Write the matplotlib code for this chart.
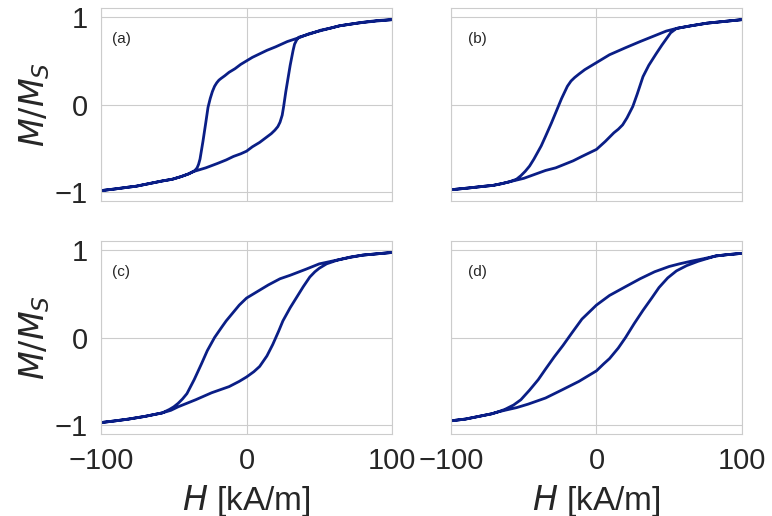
import matplotlib
matplotlib.use("Agg")
import matplotlib.pyplot as plt
import seaborn as sns

sns.set_style("whitegrid")
plt.rcParams['font.family'] = ['Liberation Sans', 'DejaVu Sans']
plt.rcParams['mathtext.fontset'] = 'dejavusans'

line_color = '#0a1e86'
panel_names = ['(a)', '(b)', '(c)', '(d)']

# (a) descending branch, then ascending branch
a_up_H = [100, 90, 80, 72, 64, 57, 50, 43, 37, 28, 20, 14, 9, 4, 0, -4, -8, -12, -15, -17.5, -19, -20.5, -22, -23.5, -25, -26.5, -28, -30, -32, -33, -34, -35.5, -40, -45, -51, -58, -64, -70, -76, -81, -90, -100]
a_up_M = [0.97, 0.96, 0.94, 0.92, 0.90, 0.87, 0.84, 0.81, 0.77, 0.72, 0.66, 0.62, 0.58, 0.54, 0.50, 0.46, 0.41, 0.37, 0.33, 0.30, 0.28, 0.25, 0.21, 0.15, 0.07, -0.03, -0.20, -0.42, -0.62, -0.68, -0.72, -0.75, -0.79, -0.82, -0.85, -0.87, -0.89, -0.91, -0.93, -0.94, -0.96, -0.98]
a_lo_H = [-100, -90, -81, -76, -70, -64, -58, -51, -45, -40, -36, -28, -20, -14, -9, -4, 0, 4, 9, 13, 17, 19.5, 21.5, 23, 24.5, 25.5, 27, 29, 30, 32, 33, 34.5, 36, 40, 45, 51, 58, 64, 70, 76, 81, 90, 100]
a_lo_M = [-0.98, -0.96, -0.94, -0.93, -0.91, -0.89, -0.87, -0.85, -0.82, -0.79, -0.76, -0.72, -0.67, -0.63, -0.59, -0.56, -0.53, -0.48, -0.43, -0.38, -0.33, -0.29, -0.25, -0.20, -0.12, -0.02, 0.15, 0.35, 0.45, 0.62, 0.69, 0.74, 0.77, 0.79, 0.815, 0.85, 0.875, 0.90, 0.915, 0.93, 0.94, 0.955, 0.97]

# (b)
b_up_H = [100, 88, 76, 65, 55, 48, 42, 36, 30, 20, 9, 0, -8, -12, -15, -17.5, -20, -24, -28, -31, -35, -38, -43, -46, -49, -52, -55, -60, -65, -71, -77, -88, -100]
b_up_M = [0.97, 0.95, 0.93, 0.90, 0.87, 0.84, 0.80, 0.76, 0.72, 0.65, 0.57, 0.48, 0.40, 0.35, 0.31, 0.27, 0.21, 0.07, -0.09, -0.21, -0.36, -0.47, -0.62, -0.70, -0.76, -0.81, -0.85, -0.88, -0.90, -0.92, -0.93, -0.95, -0.97]
b_lo_H = [-100, -88, -77, -71, -65, -60, -55, -50, -45, -40, -35, -28, -22, -16, -10, -5, 0, 6, 12, 15, 18, 21, 25, 28, 32, 36, 41, 45, 48, 51, 55, 65, 76, 88, 100]
b_lo_M = [-0.97, -0.95, -0.93, -0.92, -0.90, -0.88, -0.86, -0.84, -0.81, -0.78, -0.75, -0.72, -0.68, -0.64, -0.59, -0.55, -0.51, -0.42, -0.32, -0.28, -0.23, -0.15, -0.02, 0.12, 0.32, 0.45, 0.58, 0.68, 0.75, 0.82, 0.87, 0.90, 0.93, 0.95, 0.97]

# (c)
c_up_H = [100, 90, 80, 72, 64, 57, 50, 41, 30, 23, 15, 7, 0, -5, -10, -14, -17, -22, -27, -31, -36, -41, -44, -47, -50, -53, -58, -64, -70, -81, -90, -100]
c_up_M = [0.97, 0.955, 0.94, 0.92, 0.89, 0.865, 0.84, 0.78, 0.71, 0.67, 0.60, 0.52, 0.45, 0.37, 0.27, 0.19, 0.12, 0.0, -0.15, -0.30, -0.48, -0.64, -0.70, -0.75, -0.79, -0.82, -0.86, -0.88, -0.90, -0.93, -0.95, -0.97]
c_lo_H = [-100, -90, -81, -70, -64, -58, -52, -47, -41, -35, -24, -12, -5, 0, 5, 9, 14, 18, 22, 25, 30, 34.5, 39, 43.5, 47, 50, 55, 62, 70, 80, 90, 100]
c_lo_M = [-0.97, -0.95, -0.93, -0.90, -0.88, -0.86, -0.83, -0.79, -0.75, -0.71, -0.63, -0.56, -0.50, -0.45, -0.39, -0.33, -0.21, -0.08, 0.07, 0.19, 0.34, 0.46, 0.58, 0.69, 0.75, 0.79, 0.84, 0.88, 0.91, 0.94, 0.955, 0.97]

# (d)
d_up_H = [100, 90, 82, 74, 65, 57, 50, 45, 40, 35, 30, 20, 9, 0, -5, -10, -17, -23, -29, -35, -40, -46, -52, -57, -63, -68, -72, -81, -90, -100]
d_up_M = [0.96, 0.945, 0.93, 0.90, 0.87, 0.84, 0.81, 0.78, 0.75, 0.71, 0.67, 0.58, 0.48, 0.37, 0.29, 0.21, 0.05, -0.09, -0.22, -0.36, -0.48, -0.60, -0.71, -0.77, -0.82, -0.85, -0.87, -0.90, -0.93, -0.95]
d_lo_H = [-100, -90, -81, -72, -68, -63, -55, -47, -35, -24, -12, -5, 0, 5, 9, 15, 20, 26, 32, 38, 43, 49, 55, 62, 70, 76, 82, 90, 100]
d_lo_M = [-0.95, -0.93, -0.90, -0.87, -0.85, -0.83, -0.80, -0.76, -0.69, -0.60, -0.50, -0.43, -0.38, -0.30, -0.24, -0.12, 0.0, 0.16, 0.31, 0.45, 0.57, 0.68, 0.76, 0.82, 0.87, 0.90, 0.93, 0.945, 0.96]

loops = [(a_up_H, a_up_M, a_lo_H, a_lo_M),
         (b_up_H, b_up_M, b_lo_H, b_lo_M),
         (c_up_H, c_up_M, c_lo_H, c_lo_M),
         (d_up_H, d_up_M, d_lo_H, d_lo_M)]
label_x = [0.037, 0.06, 0.037, 0.06]

fig, axes = plt.subplots(2, 2, sharex=True, sharey=True, figsize=(7.72, 5.16), dpi=100)
fig.subplots_adjust(left=0.131, right=0.961, top=0.984, bottom=0.159, wspace=0.203, hspace=0.207)

for i, ax in enumerate(axes.flat):
    up_H, up_M, lo_H, lo_M = loops[i]
    ax.plot(lo_H + up_H, lo_M + up_M, color=line_color, lw=2.0, solid_joinstyle='round')
    ax.set_xlim(-100, 100)
    ax.set_ylim(-1.1, 1.1)
    ax.set_xticks([-100, 0, 100])
    ax.set_yticks([-1, 0, 1])
    ax.tick_params(labelsize=21, pad=6, colors='.15')
    ax.text(label_x[i], 0.84, panel_names[i], transform=ax.transAxes,
            fontsize=11, va='center', ha='left', color='.15')
    for sp in ax.spines.values():
        sp.set_color('#cccccc')

for ax in axes[:, 0]:
    ax.set_ylabel('$M/M_S$', fontsize=24, color='.15', labelpad=2)
for ax in axes[1, :]:
    # the reference crops the bottom of this label at the image edge
    ax.set_xlabel('$H$ [kA/m]', fontsize=24, color='.15', labelpad=6)

fig.savefig('out.png', dpi=100)
